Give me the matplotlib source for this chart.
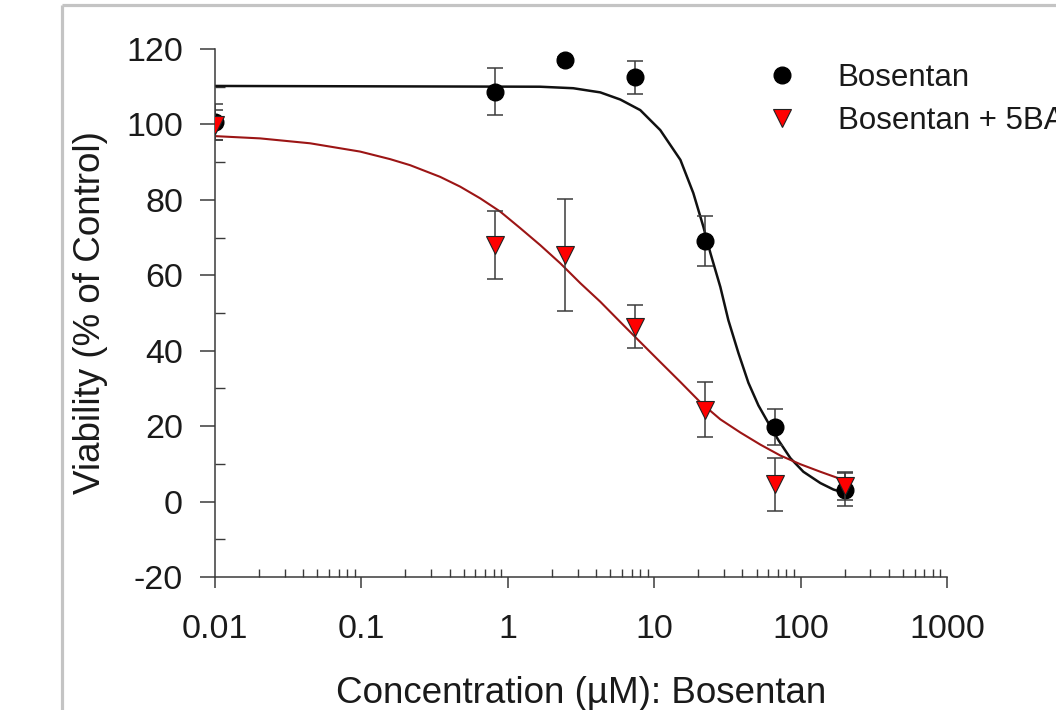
import matplotlib
matplotlib.use("Agg")
import matplotlib.pyplot as plt
from matplotlib.lines import Line2D
from matplotlib.ticker import FixedLocator, MultipleLocator, LogLocator, NullFormatter

plt.rcParams['font.family'] = ['Liberation Sans', 'DejaVu Sans']
plt.rcParams['axes.unicode_minus'] = False

# ---------------- data ----------------
conc = [0.01, 0.823, 2.47, 7.41, 22.2, 66.7, 200]

bos_mean = [100.6, 108.7, 117.1, 112.5, 69.1, 19.8, 3.2]
bos_err = [4.7, 6.2, 0.8, 4.4, 6.6, 4.7, 4.5]

combo_mean = [99.8, 68.0, 65.4, 46.3, 24.3, 4.6, 4.1]
combo_err = [4.0, 9.1, 14.9, 5.7, 7.3, 7.0, 3.8]

# fitted curves, points
bos_fit_x = [0.01, 1.66, 2.80, 3.66, 4.28, 5.87, 8.03, 11.0, 15.1, 18.5,
             21.7, 24.2, 28.3, 32.1, 37.6, 44.0, 51.5, 60.3, 70.5, 85.2,
             104.5, 136.6, 167.5, 200]
bos_fit_y = [110.2, 110.0, 109.6, 108.9, 108.5, 106.6, 103.8, 98.5, 90.6, 81.8,
             72.8, 65.9, 56.9, 48.1, 39.4, 31.5, 25.5, 20.8, 16.3, 11.5,
             7.9, 4.9, 3.2, 2.3]

combo_fit_x = [0.01, 0.0203, 0.0446, 0.0980, 0.157, 0.215, 0.345, 0.473,
               0.648, 0.887, 1.216, 1.665, 2.28, 3.13, 4.28, 5.87, 8.03,
               11.0, 15.1, 20.7, 28.3, 38.8, 53.1, 72.8, 99.7, 136.6, 200]
combo_fit_y = [96.9, 96.3, 95.0, 92.8, 90.8, 89.2, 86.1, 83.5,
               80.4, 76.9, 72.5, 68.0, 63.2, 57.9, 53.0, 47.6, 42.3,
               37.0, 31.7, 26.3, 21.8, 18.3, 15.1, 12.2, 9.9, 7.9, 5.6]

xtick_vals = [0.01, 0.1, 1, 10, 100, 1000]
xtick_labels = ['0.01', '0.1', '1', '10', '100', '1000']
ytick_vals = [-20, 0, 20, 40, 60, 80, 100, 120]

series_labels = ['Bosentan', 'Bosentan + 5BA']
x_label = 'Concentration (\u00b5M): Bosentan'
y_label = 'Viability (% of Control)'

# ---------------- figure ----------------
W, H = 1056, 710
fig = plt.figure(figsize=(W / 100, H / 100), dpi=100)
fig.patch.set_facecolor('white')

# gray frame of the original picture (clipped on right / bottom)
fx = 62 / W
fy = 1 - 5 / H
fig.add_artist(Line2D([fx, fx], [fy, -0.01], transform=fig.transFigure,
                      color='#c4c4c4', lw=2.3, solid_capstyle='butt'))
fig.add_artist(Line2D([fx, 1.01], [fy, fy], transform=fig.transFigure,
                      color='#c4c4c4', lw=2.3, solid_capstyle='butt'))

ax_l, ax_r, ax_t, ax_b = 215, 947, 49, 577
ax = fig.add_axes([ax_l / W, 1 - ax_b / H, (ax_r - ax_l) / W, (ax_b - ax_t) / H])
ax.set_xscale('log')
ax.set_xlim(0.01, 1000)
ax.set_ylim(-20, 120)

axis_col = '#3a3a3a'
for s in ['top', 'right']:
    ax.spines[s].set_visible(False)
for s in ['left', 'bottom']:
    ax.spines[s].set_color(axis_col)
    ax.spines[s].set_linewidth(1.1)

ax.xaxis.set_major_locator(FixedLocator(xtick_vals))
ax.set_xticks(xtick_vals, xtick_labels)
ax.xaxis.set_minor_locator(LogLocator(base=10, subs=range(2, 10), numticks=50))
ax.xaxis.set_minor_formatter(NullFormatter())
ax.set_yticks(ytick_vals)
ax.yaxis.set_minor_locator(MultipleLocator(10))

ax.tick_params(axis='x', which='major', direction='out', length=8, width=1.1,
               color=axis_col, labelsize=24.5, pad=19, labelcolor='#1a1a1a')
ax.tick_params(axis='x', which='minor', direction='in', length=6, width=1.0,
               color=axis_col)
ax.tick_params(axis='y', which='major', direction='out', length=11, width=1.1,
               color=axis_col, labelsize=24.5, pad=12, labelcolor='#1a1a1a')
ax.tick_params(axis='y', which='minor', direction='in', length=7, width=1.0,
               color=axis_col)

# curves
ax.plot(bos_fit_x, bos_fit_y, color='#111111', lw=1.8, zorder=2,
        solid_joinstyle='round')
ax.plot(combo_fit_x, combo_fit_y, color='#9c1515', lw=1.5, zorder=2.1,
        solid_joinstyle='round')

err_col = '#3c3c3c'
ax.errorbar(conc, bos_mean, yerr=bos_err, fmt='none', ecolor=err_col,
            elinewidth=1.1, capsize=5.5, capthick=1.1, zorder=3)
ax.plot(conc, bos_mean, linestyle='none', marker='o', markersize=12,
        markerfacecolor='black', markeredgecolor='black', zorder=4)
ax.errorbar(conc, combo_mean, yerr=combo_err, fmt='none', ecolor=err_col,
            elinewidth=1.1, capsize=5.5, capthick=1.1, zorder=5)
ax.plot(conc, combo_mean, linestyle='none', marker='v', markersize=13,
        markerfacecolor='#ff0000', markeredgecolor='#222222',
        markeredgewidth=0.8, zorder=6)

# legend
h1 = Line2D([], [], linestyle='none', marker='o', markersize=12,
            markerfacecolor='black', markeredgecolor='black')
h2 = Line2D([], [], linestyle='none', marker='v', markersize=13,
            markerfacecolor='#ff0000', markeredgecolor='#222222',
            markeredgewidth=0.8)
leg = ax.legend([h1, h2], series_labels, loc='center left',
                bbox_to_anchor=(766 / W, 1 - 99.5 / H),
                bbox_transform=fig.transFigure, frameon=False,
                fontsize=22.5, handlelength=1.0, handletextpad=1.29,
                borderpad=0, borderaxespad=0, labelspacing=0.44)
for t in leg.get_texts():
    t.set_color('#1a1a1a')

# axis labels
fig.text((ax_l + ax_r) / 2 / W, 1 - 703 / H, x_label, ha='center',
         va='baseline', fontsize=26.5, color='#1a1a1a')
fig.text(100 / W, 1 - (ax_t + ax_b) / 2 / H, y_label, ha='center',
         va='baseline', rotation=90, rotation_mode='anchor', fontsize=26.5,
         color='#1a1a1a')

fig.savefig('out.png', dpi=100, facecolor='white')
